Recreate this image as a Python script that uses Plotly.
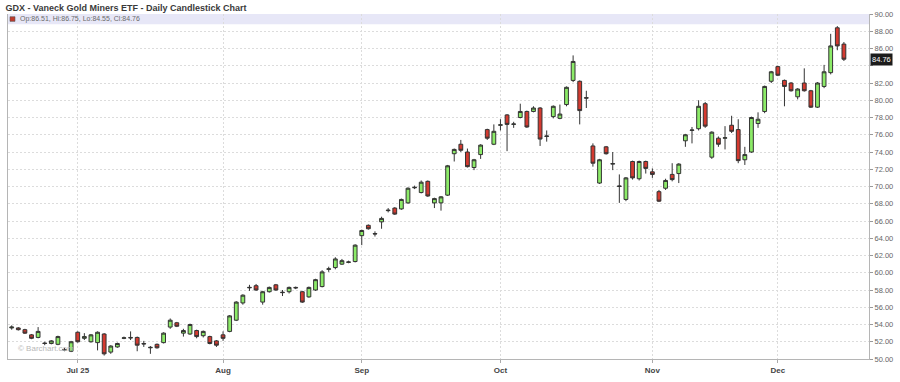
import plotly.graph_objects as go

# ---- data ----
dates = [
    "2025-06-16", "2025-06-17", "2025-06-18", "2025-06-20", "2025-06-23", "2025-06-24", "2025-06-25",
    "2025-06-26", "2025-06-27", "2025-06-30",
    "2025-07-01", "2025-07-02", "2025-07-03", "2025-07-07", "2025-07-08", "2025-07-09", "2025-07-10",
    "2025-07-11", "2025-07-14", "2025-07-15", "2025-07-16", "2025-07-17", "2025-07-18", "2025-07-21",
    "2025-07-22", "2025-07-23", "2025-07-24", "2025-07-25", "2025-07-28", "2025-07-29", "2025-07-30",
    "2025-07-31",
    "2025-08-01", "2025-08-04", "2025-08-05", "2025-08-06", "2025-08-07", "2025-08-08", "2025-08-11",
    "2025-08-12", "2025-08-13", "2025-08-14", "2025-08-15", "2025-08-18", "2025-08-19", "2025-08-20",
    "2025-08-21", "2025-08-22", "2025-08-25", "2025-08-26", "2025-08-27", "2025-08-28", "2025-08-29",
    "2025-09-02", "2025-09-03", "2025-09-04", "2025-09-05", "2025-09-08", "2025-09-09", "2025-09-10",
    "2025-09-11", "2025-09-12", "2025-09-15", "2025-09-16", "2025-09-17", "2025-09-18", "2025-09-19",
    "2025-09-22", "2025-09-23", "2025-09-24", "2025-09-25", "2025-09-26", "2025-09-29", "2025-09-30",
    "2025-10-01", "2025-10-02", "2025-10-03", "2025-10-06", "2025-10-07", "2025-10-08", "2025-10-09",
    "2025-10-10", "2025-10-13", "2025-10-14", "2025-10-15", "2025-10-16", "2025-10-17", "2025-10-20",
    "2025-10-21", "2025-10-22", "2025-10-23", "2025-10-24", "2025-10-27", "2025-10-28", "2025-10-29",
    "2025-10-30", "2025-10-31",
    "2025-11-03", "2025-11-04", "2025-11-05", "2025-11-06", "2025-11-07", "2025-11-10", "2025-11-11",
    "2025-11-12", "2025-11-13", "2025-11-14", "2025-11-17", "2025-11-18", "2025-11-19", "2025-11-20",
    "2025-11-21", "2025-11-24", "2025-11-25", "2025-11-26", "2025-11-28",
    "2025-12-01", "2025-12-02", "2025-12-03", "2025-12-04", "2025-12-05", "2025-12-08", "2025-12-09",
    "2025-12-10", "2025-12-11", "2025-12-12", "2025-12-15",
]

opens = [
    53.6, 53.6, 53.4, 52.8, 52.5, 51.85, 51.8, 51.7, 51.1, 50.9,
    53.1, 52.4, 52.0, 51.9, 52.9, 50.8, 51.4, 52.4, 52.5, 52.5, 51.8, 51.3, 51.7, 51.9,
    53.7, 54.2, 53.0, 52.9, 53.3, 52.7, 52.6, 52.1,
    52.8, 53.2, 54.5, 56.5, 58.25, 58.5, 56.6, 57.8, 58.6, 57.75, 57.8, 58.3, 57.8, 57.2,
    58.0, 58.4, 60.4, 60.6, 61.0, 61.2, 61.3,
    64.3, 65.5, 64.55, 65.9, 67.2, 67.5, 67.4, 68.1, 69.85, 69.3, 70.6, 68.1, 68.1, 69.0,
    73.8, 74.9, 74.0, 72.2, 73.7, 76.6, 74.9,
    77.1, 78.3, 77.2, 78.0, 78.7, 78.7, 79.1, 75.8, 78.1, 77.9, 79.5, 82.3, 82.2, 80.3,
    74.7, 70.4, 74.6, 72.6, 70.0, 68.5, 72.9, 70.9, 72.9,
    71.7, 69.4, 69.8, 71.4, 71.5, 75.3, 76.5, 76.7, 79.6, 73.4, 75.6, 75.6, 77.1, 76.6,
    73.1, 74.0, 77.3, 78.7, 82.2,
    83.9, 82.3, 82.0, 80.4, 82.0, 81.1, 79.2, 81.6, 83.2, 88.4, 86.51,
]

highs = [
    53.9, 53.7, 53.5, 52.9, 53.7, 52.0, 52.2, 52.7, 51.3, 52.1,
    53.2, 53.0, 52.9, 53.2, 53.0, 51.6, 51.9, 52.6, 53.2, 52.6, 52.1, 51.5, 51.8, 53.1,
    54.7, 54.3, 53.5, 54.1, 53.4, 53.3, 52.7, 52.2,
    53.2, 55.1, 56.7, 57.5, 58.6, 58.7, 57.9, 58.4, 58.7, 58.0, 58.4, 58.4, 57.9, 58.4,
    59.3, 60.3, 60.7, 61.8, 61.6, 61.4, 63.3,
    65.0, 65.6, 64.8, 66.5, 67.5, 67.6, 68.6, 69.9, 70.1, 70.7, 70.7, 68.7, 68.9, 72.5,
    74.4, 75.4, 74.4, 73.2, 74.9, 76.7, 77.2,
    77.8, 78.4, 77.5, 79.6, 78.8, 79.3, 79.2, 76.5, 79.4, 79.5, 81.6, 85.2, 82.3, 81.1,
    75.0, 73.2, 74.7, 74.0, 71.4, 71.1, 73.0, 73.0, 73.0,
    72.1, 69.6, 70.9, 72.7, 72.7, 76.1, 76.9, 80.0, 79.8, 76.4, 75.8, 77.0, 78.2, 77.8,
    74.6, 78.1, 78.6, 81.7, 83.4,
    84.0, 82.4, 82.1, 81.4, 83.7, 81.2, 82.1, 84.1, 87.7, 88.6, 86.75,
]

lows = [
    53.4, 53.3, 52.9, 52.3, 52.4, 51.6, 51.7, 51.6, 50.9, 50.8,
    51.9, 52.2, 51.9, 51.0, 50.4, 50.6, 51.3, 52.3, 52.2, 50.9, 51.4, 50.6, 51.2, 51.8,
    53.5, 53.7, 52.6, 52.8, 52.4, 52.5, 51.7, 51.4,
    52.1, 53.1, 54.4, 56.3, 57.9, 57.9, 56.3, 57.7, 57.9, 57.3, 57.6, 58.1, 56.5, 57.1,
    57.9, 58.3, 60.1, 60.4, 60.9, 61.1, 61.2,
    63.2, 65.0, 64.2, 65.1, 67.0, 66.7, 67.3, 68.0, 69.7, 69.2, 68.8, 67.5, 67.2, 68.9,
    72.9, 74.0, 72.2, 71.9, 73.2, 75.4, 74.8,
    76.5, 74.1, 76.8, 77.9, 76.8, 78.6, 74.7, 75.2, 77.9, 77.8, 79.3, 82.1, 77.2, 79.1,
    72.3, 70.3, 73.7, 71.9, 68.1, 68.3, 70.8, 70.7, 71.5,
    71.0, 68.2, 69.6, 70.6, 70.4, 74.6, 75.0, 76.5, 76.8, 73.2, 74.6, 74.3, 76.2, 72.7,
    72.5, 73.9, 76.8, 78.5, 82.0,
    82.8, 79.3, 81.0, 80.1, 81.0, 79.1, 79.1, 81.4, 83.0, 85.8, 84.55,
]

closes = [
    53.7, 53.4, 53.0, 52.4, 53.2, 51.8, 52.1, 52.6, 51.05, 52.0,
    52.0, 52.6, 52.8, 53.1, 50.6, 51.5, 51.8, 52.45, 52.45, 51.6, 51.75, 51.35, 51.3, 53.0,
    54.5, 53.8, 53.3, 54.0, 52.6, 53.2, 51.8, 51.6,
    52.4, 55.0, 56.6, 57.4, 58.3, 58.0, 57.8, 58.3, 58.0, 57.7, 58.3, 58.25, 56.6, 58.3,
    59.2, 60.1, 60.45, 61.6, 61.4, 61.25, 63.2,
    64.9, 65.1, 64.5, 66.3, 67.25, 66.8, 68.5, 69.8, 69.9, 70.5, 68.9, 68.6, 68.8, 72.4,
    74.3, 74.2, 72.3, 73.1, 74.8, 75.6, 76.4,
    77.15, 77.2, 77.25, 78.7, 76.9, 79.1, 75.5, 75.85, 79.3, 78.4, 81.5, 84.5, 78.8, 80.25,
    72.7, 73.1, 73.8, 72.65, 70.05, 71.0, 71.0, 72.9, 72.1,
    71.4, 68.3, 70.7, 70.8, 72.6, 76.0, 76.55, 79.3, 77.0, 76.3, 74.9, 75.65, 76.4, 73.0,
    73.7, 78.0, 77.8, 81.6, 83.3,
    82.9, 81.6, 81.1, 81.3, 81.1, 79.2, 82.0, 83.3, 86.3, 86.3, 84.76,
]

y_ticks = [50, 52, 54, 56, 58, 60, 62, 64, 66, 68, 70, 72, 74, 76, 78, 80, 82, 84, 86, 88, 90]
y_tick_text = ["50.00", "52.00", "54.00", "56.00", "58.00", "60.00", "62.00", "64.00", "66.00",
               "68.00", "70.00", "72.00", "74.00", "76.00", "78.00", "80.00", "82.00", "",
               "86.00", "88.00", "90.00"]
month_ticks = ["2025-07-01", "2025-08-01", "2025-09-02", "2025-10-01", "2025-11-03", "2025-12-01"]
month_labels = ["Jul 25", "Aug", "Sep", "Oct", "Nov", "Dec"]

title_text = "GDX - Vaneck Gold Miners ETF - Daily Candlestick Chart"
last_open, last_high, last_low, last_close = opens[-1], highs[-1], lows[-1], closes[-1]
header_text = f"Op:{last_open:.2f}, Hi:{last_high:.2f}, Lo:{last_low:.2f}, Cl:{last_close:.2f}"

FONT = "Liberation Sans, Arial, sans-serif"
GREEN = "#8CEB68"
RED = "#D43A30"
OUTLINE = "#333333"
GRID = "#dcdcdc"

fig = go.Figure(go.Candlestick(
    x=dates, open=opens, high=highs, low=lows, close=closes,
    increasing=dict(line=dict(color=OUTLINE, width=1), fillcolor=GREEN),
    decreasing=dict(line=dict(color=OUTLINE, width=1), fillcolor=RED),
    whiskerwidth=0,
    showlegend=False,
))

PLOT_H = 382 - 14 - 16
band_frac = 10.5 / PLOT_H

fig.update_layout(
    width=900, height=382,
    margin=dict(l=7, r=29, t=14, b=16, pad=0),
    paper_bgcolor="white", plot_bgcolor="white",
    boxgap=0.18,
    font=dict(family=FONT, color="#555"),
    title=dict(text=f"<b>{title_text}</b>", x=0.006, xanchor="left", xref="container",
               y=1 - 7.5 / 382, yanchor="middle", yref="container",
               font=dict(family=FONT, size=9, color="#3a3a3a")),
    xaxis=dict(
        type="category", range=[-0.56, 129.8],
        tickmode="array", tickvals=month_ticks,
        ticktext=[f"<b>{t}</b>" for t in month_labels],
        tickfont=dict(family=FONT, size=8, color="#444"),
        showgrid=True, gridcolor=GRID, griddash="2px,2px", gridwidth=1,
        ticks="outside", ticklen=3, tickcolor="#aaa",
        showline=True, linecolor="#b5b5b5", linewidth=1,
        rangeslider=dict(visible=False), fixedrange=True,
    ),
    yaxis=dict(
        side="right", range=[50, 90],
        tickmode="array", tickvals=y_ticks, ticktext=y_tick_text,
        tickfont=dict(family=FONT, size=7.5, color="#666"),
        showgrid=True, gridcolor=GRID, griddash="2px,2px", gridwidth=1,
        ticks="outside", ticklen=3, tickcolor="#999",
        showline=True, mirror=True, linecolor="#b5b5b5", linewidth=1,
        zeroline=False, fixedrange=True,
    ),
    shapes=[
        dict(type="rect", xref="paper", yref="paper", x0=0, x1=1, y0=1 - band_frac, y1=1,
             fillcolor="#E7E7F7", line=dict(width=0), layer="below"),
        dict(type="rect", xref="paper", yref="paper", x0=2 / 864, x1=7 / 864,
             y0=1 - 7.5 / PLOT_H, y1=1 - 2.8 / PLOT_H,
             fillcolor="#C0392B", line=dict(color="#555", width=0.6)),
    ],
    annotations=[
        dict(text=header_text, xref="paper", yref="paper", x=10 / 864, y=1 - 5.2 / PLOT_H,
             xanchor="left", yanchor="middle", showarrow=False,
             font=dict(family=FONT, size=7, color="#6a6a6a")),
        dict(text="© Barchart.com", xref="paper", yref="paper", x=8 / 864, y=(366 - 355) / PLOT_H,
             xanchor="left", yanchor="middle", showarrow=False,
             font=dict(family=FONT, size=8, color="#b8b8b8")),
        dict(text=f"{last_close:.2f}", xref="paper", yref="y", x=1, y=last_close,
             xanchor="left", yanchor="middle", xshift=1, showarrow=False,
             bgcolor="#1c1c1c", borderpad=1,
             font=dict(family=FONT, size=7.5, color="white")),
    ],
)

fig.write_html("out.html")
